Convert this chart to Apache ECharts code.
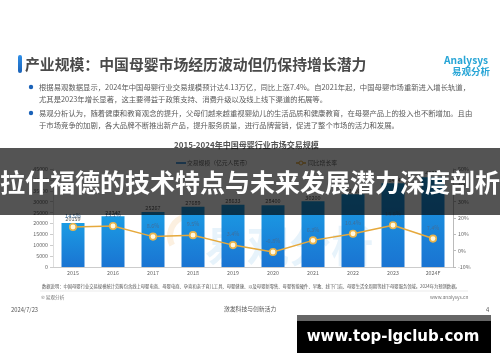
<!DOCTYPE html>
<html><head><meta charset="utf-8">
<style>
html,body{margin:0;padding:0;background:#fff;width:500px;height:362px;overflow:hidden}
#base,#over{position:absolute;left:0;top:0;width:500px;height:362px}
#base{filter:blur(0.65px)}
</style>
<script src="https://cdn.jsdelivr.net/npm/echarts@6/dist/echarts.min.js"></script>
</head><body>
<div id="base"></div><div id="over"></div>
<script>
const categories=['2015','2016','2017','2018','2019','2020','2021','2022','2023','2024F'];
const scaleValues=[20159,23247,25267,27689,28633,28400,30200,33400,38414,41257];
const growthValues=[14.5,15.1,8.6,9.5,3.4,-0.8,6.3,10.4,15.6,7.4];
const leftTicks={min:0,max:45000,interval:5000};
const rightTicks={min:-10,max:50,interval:10};
const pageTitle='产业规模：中国母婴市场经历波动但仍保持增长潜力';
const bullets=[
 ['根据易观数据显示，2024年中国母婴行业交易规模预计达4.13万亿，同比上涨7.4%。自2021年起，中国母婴市场重新进入增长轨道，','尤其是2023年增长显著，这主要得益于政策支持、消费升级以及线上线下渠道的拓展等。'],
 ['易观分析认为，随着健康和教育观念的提升，父母们越来越重视婴幼儿的生活品质和健康教育，在母婴产品上的投入也不断增加。且由','于市场竞争的加剧，各大品牌不断推出新产品，提升服务质量，进行品牌营销，促进了整个市场的活力和发展。']
];
const chartTitle='2015-2024年中国母婴行业市场交易规模';
const seriesNames=['交易规模（亿元人民币）','同比增长率'];
const sourceNote='数据说明：中国母婴行业交易规模统计范畴包含线上母婴电商、母婴电商、孕育和亲子育儿工具、母婴健康、以及母婴新零售、母婴智能硬件、早教、线下门店、母婴生活全周期等线下母婴服务领域。2024年为预测数据。';
const bannerText='拉什福德的技术特点与未来发展潜力深度剖析';
const siteText='www.top-lgclub.com';
const FONT='"Noto Sans CJK SC","Noto Sans",sans-serif';
function T(x,y,text,size,color,extra){
  return {type:'text',x,y,silent:true,style:Object.assign({text,font:(extra&&extra.weight||'normal')+' '+size+'px '+FONT,fill:color,textVerticalAlign:'middle'},extra&&extra.style||{})};
}
const g=[];
g.push(T(205,246,'易观分析',42,'rgba(40,150,220,0.11)',{weight:'bold'}));
g.push({type:'arc',shape:{cx:190,cy:236,r:20,startAngle:Math.PI*0.85,endAngle:Math.PI*1.5},style:{fill:'none',stroke:'rgba(235,160,60,0.16)',lineWidth:6}});
g.push({type:'rect',shape:{x:18,y:55,width:4,height:18,r:2},style:{fill:new echarts.graphic.LinearGradient(0,0,0,1,[{offset:0,color:'#2f8fe8'},{offset:1,color:'#1a62b8'}])}});
g.push(T(25,64,pageTitle,14.85,'#4a4a4a',{weight:'bold'}));
g.push(T(444,60,'Analysys',10.2,'#27a5d6',{weight:'bold'}));
g.push(T(452,71,'易观分析',9.5,'#27a5d6',{weight:'bold'}));
const ys=[[87,99],[113,125]];
bullets.forEach((ls,i)=>{
  g.push({type:'circle',shape:{cx:31,cy:ys[i][0],r:2.2},style:{fill:'#1a62b8'}});
  ls.forEach((l,j)=>g.push(T(39,ys[i][j],l,7.35,'#5a5a5a')));
});
g.push(T(174,145,chartTitle,8,'#555',{weight:'bold'}));
g.push({type:'line',shape:{x1:176,y1:163,x2:186,y2:163},style:{stroke:'#1a7fd0',lineWidth:1.5}});
g.push(T(187,163,seriesNames[0],5.8,'#666'));
g.push({type:'line',shape:{x1:296,y1:163,x2:306,y2:163},style:{stroke:'#e6a93c',lineWidth:1.5}});
g.push({type:'circle',shape:{cx:301,cy:163,r:2},style:{fill:'#fff',stroke:'#e6a93c',lineWidth:1}});
g.push(T(308,163,seriesNames[1],5.8,'#666'));
g.push(T(42,286,sourceNote,4.3,'#555'));
g.push({type:'line',shape:{x1:40,y1:291,x2:468,y2:291},style:{stroke:'#ddd',lineWidth:.6}});
g.push(T(41,297,'© 易观分析',4.6,'#777'));
g.push(T(430,297,'www.analysys.cn',4.8,'#777'));
g.push(T(11,310,'2024/7/23',5.8,'#555'));
g.push(T(224,309,'激发科技与创新活力',5.8,'#555'));
g.push(T(486,310,'4',5.8,'#555'));
const base=echarts.init(document.getElementById('base'));
base.setOption({
  animation:false,backgroundColor:'#fff',
  grid:{left:53,right:47,top:169,height:98},
  graphic:{elements:g},
  xAxis:{type:'category',data:categories,axisLine:{lineStyle:{color:'#ccc',width:1}},axisTick:{show:false},
    axisLabel:{fontSize:5.3,color:'#666',margin:3,fontFamily:FONT}},
  yAxis:[
   {type:'value',...leftTicks,splitLine:{show:false},axisLine:{show:true,lineStyle:{color:'#ddd'}},axisTick:{show:true,length:3,lineStyle:{color:'#ccc'}},
    axisLabel:{fontSize:5.3,color:'#666',margin:5,fontFamily:FONT,formatter:v=>String(v)}},
   {type:'value',...rightTicks,splitLine:{show:false},axisLine:{show:true,lineStyle:{color:'#bbb'}},axisTick:{show:true,length:3,lineStyle:{color:'#bbb'}},
    axisLabel:{fontSize:5.3,color:'#666',margin:5,formatter:'{value}%',fontFamily:FONT}}
  ],
  series:[
   {type:'bar',name:seriesNames[0],data:scaleValues,barWidth:23,
    itemStyle:{color:new echarts.graphic.LinearGradient(0,0,0,1,[{offset:0,color:'#1b9ce4'},{offset:1,color:'#1a74d2'}])},
    label:{show:true,position:'top',distance:1,fontSize:5.5,color:'#555',fontFamily:FONT}},
   {type:'line',name:seriesNames[1],yAxisIndex:1,data:growthValues,symbol:'circle',symbolSize:6.5,
    lineStyle:{color:'#e6a93c',width:1.5},itemStyle:{color:'#fff8e0',borderColor:'#eab44a',borderWidth:1.6},
    label:{show:true,position:'top',distance:4,fontSize:5.5,color:'#3f6f9c',fontFamily:FONT,formatter:p=>p.value+'%'}}
  ]
});
const over=echarts.init(document.getElementById('over'));
over.setOption({animation:false,graphic:{elements:[
  {type:'rect',shape:{x:0,y:148,width:500,height:67},style:{fill:'rgba(0,0,0,0.67)'}},
  {type:'text',x:250,y:182,style:{text:bannerText,font:'bold 25px '+FONT,fill:'#fff',textAlign:'center',textVerticalAlign:'middle'}},
  {type:'rect',shape:{x:297,y:315,width:194,height:6},style:{fill:'#666'}},
  {type:'rect',shape:{x:297,y:321,width:194,height:32},style:{fill:'#000'}},
  {type:'text',x:393,y:337,style:{text:siteText,font:'bold 15px "DejaVu Sans",sans-serif',fill:'#fff',textAlign:'center',textVerticalAlign:'middle'}}
]}});
</script>
</body></html>
